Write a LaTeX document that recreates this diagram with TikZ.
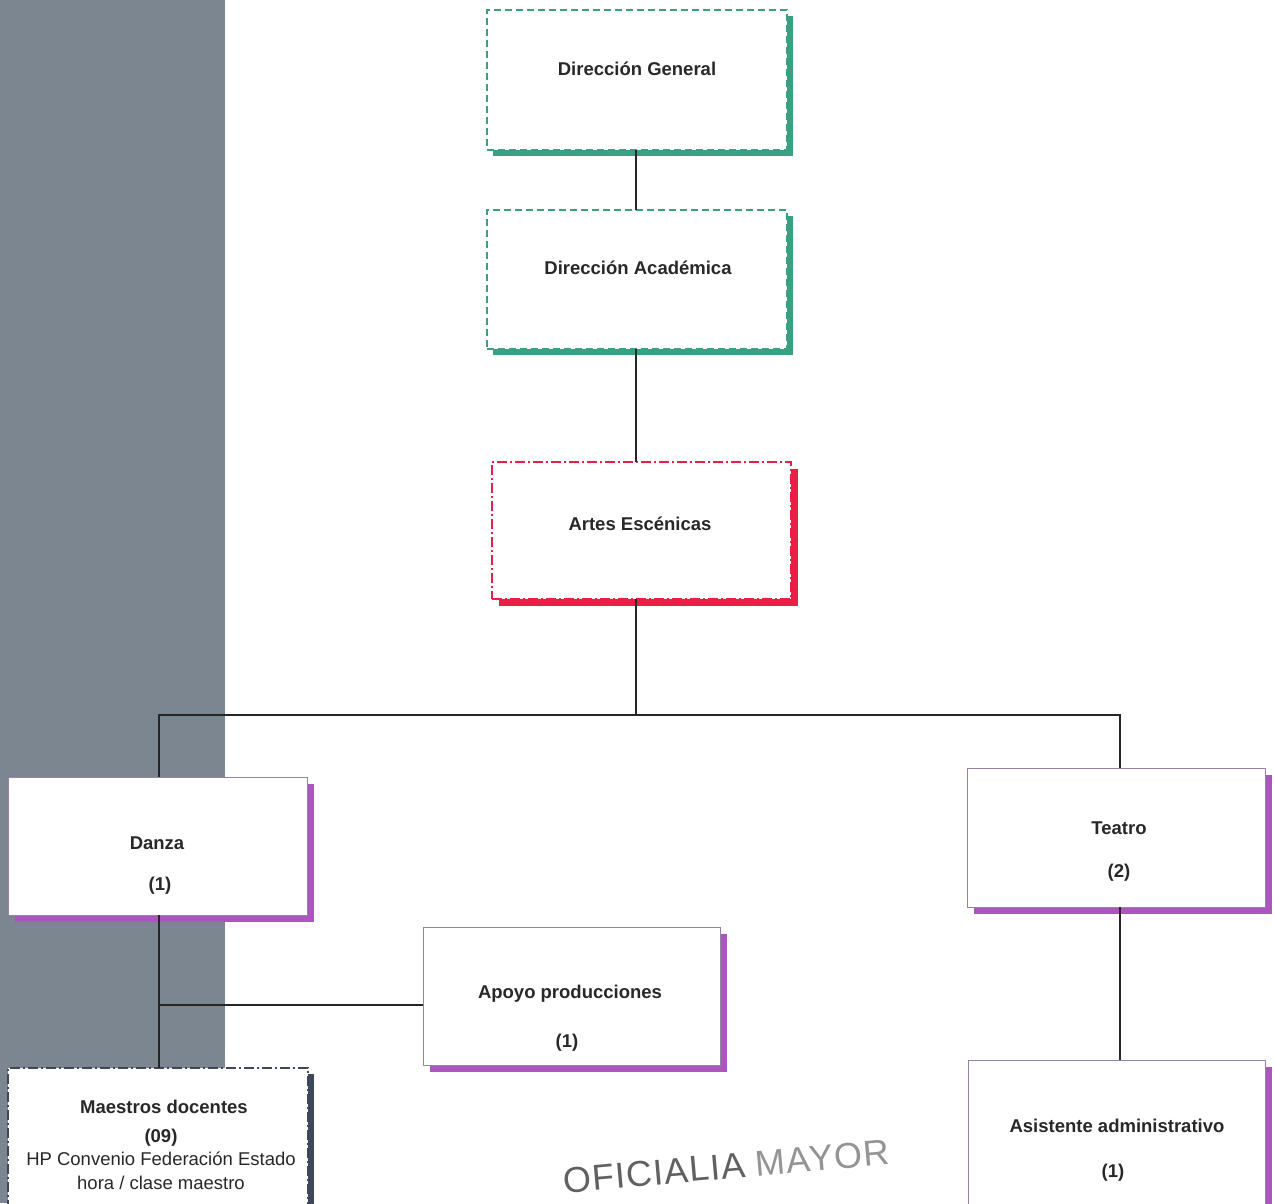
\documentclass[tikz,border=0pt]{standalone}
\usepackage{fontspec}
\setmainfont{Liberation Sans}
\usetikzlibrary{calc}
\definecolor{tealc}{RGB}{58,160,130}
\definecolor{redc}{RGB}{232,32,70}
\definecolor{purc}{RGB}{172,84,192}
\definecolor{pedge}{RGB}{150,132,168}
\definecolor{bandc}{RGB}{124,134,144}
\definecolor{navyc}{RGB}{62,72,88}
\definecolor{txtc}{RGB}{40,40,40}
\pgfdeclarelayer{bg}
\pgfsetlayers{bg,main}
\begin{document}
\begin{tikzpicture}[x=1pt,y=-1pt,
  box/.style={rectangle, fill=white, inner sep=0pt, outer sep=0pt},
  tealbox/.style={box, draw=tealc, line width=1.5pt, dash pattern=on 7pt off 4pt},
  redbox/.style={box, draw=redc, line width=1.5pt, dash pattern=on 10pt off 3pt on 2pt off 3pt},
  purbox/.style={box, draw=pedge, line width=1pt},
  navybox/.style={box, draw=navyc, line width=1.5pt, dash pattern=on 10pt off 3pt on 2pt off 3pt},
  lbl/.style={inner sep=0pt, text=txtc, font=\fontsize{18.5}{22}\selectfont\bfseries},
  lblr/.style={inner sep=0pt, text=txtc, font=\fontsize{18.5}{22}\selectfont},
  conn/.style={draw=black!85, line width=2pt},
  stamp/.style={inner sep=0pt, font=\fontsize{36}{40}\selectfont\addfontfeature{LetterSpace=3}}
]
\useasboundingbox (0,0) rectangle (1274,1203);
\clip (0,0) rectangle (1274,1203);
\begin{pgfonlayer}{bg}
  \fill[white] (0,0) rectangle (1274,1203);
  \fill[bandc] (0,0) rectangle (225,1203);
\end{pgfonlayer}

% boxes
\node[tealbox, minimum width=300pt, minimum height=140pt] (DG) at (637,80) {};
\node[tealbox, minimum width=300pt, minimum height=139pt] (DA) at (637,279.5) {};
\node[redbox, minimum width=299pt, minimum height=137pt] (AE) at (641.5,530.5) {};
\node[purbox, minimum width=299pt, minimum height=138pt] (DZ) at (157.5,846) {};
\node[purbox, minimum width=298pt, minimum height=139pt] (TE) at (1116,837.5) {};
\node[purbox, minimum width=297pt, minimum height=138pt] (AP) at (571.5,996) {};
\node[navybox, minimum width=300pt, minimum height=150pt] (MD) at (158,1143) {};
\node[purbox, minimum width=297pt, minimum height=150pt] (AA) at (1116.5,1135) {};

% shadows
\begin{pgfonlayer}{bg}
  \fill[tealc] ($(DG.north west)+(6,6)$) rectangle ($(DG.south east)+(6,6)$);
  \fill[tealc] ($(DA.north west)+(6,6)$) rectangle ($(DA.south east)+(6,6)$);
  \fill[redc] ($(AE.north west)+(7,7)$) rectangle ($(AE.south east)+(7,7)$);
  \fill[purc] ($(DZ.north west)+(7,7)$) rectangle ($(DZ.south east)+(7,7)$);
  \fill[purc] ($(TE.north west)+(7,7)$) rectangle ($(TE.south east)+(7,7)$);
  \fill[purc] ($(AP.north west)+(7,7)$) rectangle ($(AP.south east)+(7,7)$);
  \fill[navyc] ($(MD.north west)+(6,6)$) rectangle ($(MD.south east)+(6,6)$);
  \fill[purc] ($(AA.north west)+(7,7)$) rectangle ($(AA.south east)+(7,7)$);
\end{pgfonlayer}

% texts
\node[lbl] (tDG) at (637,69) {Dirección General};
\node[lbl] (tDA) at (638,268) {Dirección Académica};
\node[lbl] (tAE) at (640,524) {Artes Escénicas};
\node[lbl] (tDZ) at (157,843) {Danza};
\node[lbl] (nDZ) at (160,886) {(1)};
\node[lbl] (tTE) at (1119,828) {Teatro};
\node[lbl] (nTE) at (1119,873) {(2)};
\node[lbl] (tAP) at (570,994) {Apoyo producciones};
\node[lbl] (nAP) at (567,1043) {(1)};
\node[lbl] (tMD) at (164,1107) {Maestros docentes};
\node[lbl] (nMD) at (161,1138) {(09)};
\node[lblr] (tMD2) at (161,1159) {HP Convenio Federación Estado};
\node[lblr] (tMD3) at (161,1183) {hora / clase maestro};
\node[lbl] (tAA) at (1117,1126) {Asistente administrativo};
\node[lbl] (nAA) at (1113,1173) {(1)};

% connectors
\coordinate (bus) at (636,715);
\coordinate (tx) at (1120,715);
\coordinate (dx) at (159,715);
\coordinate (br) at (159,1005);
\draw[conn] (DG.south -| bus) -- (DA.north -| bus);
\draw[conn] (DA.south -| bus) -- (AE.north -| bus);
\draw[conn] (AE.south -| bus) -- (bus);
\draw[conn] (DZ.north -| dx) |- (tx) -- (TE.north -| tx);
\draw[conn] (DZ.south -| dx) -- (MD.north -| dx);
\draw[conn] (br) -- (AP.west |- br);
\draw[conn] (TE.south -| tx) -- (AA.north -| tx);

% stamp
\node[stamp, rotate=5, anchor=base west] (ST) at (564,1193)
  {\textcolor{black!62}{OFICIALIA}\hspace{0.3em}\textcolor{black!42}{MAYOR}};
\end{tikzpicture}
\end{document}
